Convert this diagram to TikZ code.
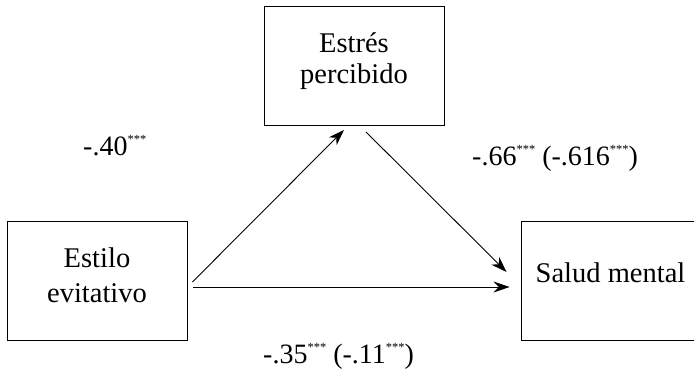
\documentclass[tikz,border=0pt]{standalone}
\usepackage{fontspec}
\setmainfont{Liberation Serif}
\usetikzlibrary{arrows.meta,calc}
\newcommand\stars{{\fontsize{12.5}{12.5}\selectfont\raisebox{11.5pt}{***}}}
\begin{document}
\begin{tikzpicture}[x=1pt,y=-1pt,
  box/.style={draw,line width=0.9pt,minimum width=180pt,minimum height=119pt,inner sep=0pt},
  txt/.style={font=\fontsize{28.5}{30}\selectfont,anchor=base,inner sep=0pt},
  coef/.style={font=\fontsize{28}{30}\selectfont,anchor=base west,inner sep=0pt},
  arr/.style={line width=0.9pt,-{Stealth[length=16pt,width=11pt]}}]
\useasboundingbox (0,0) rectangle (694,375);
\clip (0,0) rectangle (694,375);
\node[box] (ep) at (354,66) {};
\node[box] (ev) at (97,280.5) {};
\node[box] (sm) at (611,280.5) {};
\node[txt] (ept1) at (354,52) {Estrés};
\node[txt] (ept2) at (354,83) {percibido};
\node[txt] (evt1) at (97,267) {Estilo};
\node[txt] (evt2) at (97,302) {evitativo};
\node[txt] (smt) at (610.5,282) {Salud mental};
\node[coef] (ca) at (83,155) {-.40\stars};
\node[coef] (cb) at (472,165) {-.66\stars{} (-.616\stars)};
\node[coef] (cc) at (263,363) {-.35\stars{} (-.11\stars)};
\draw[arr] ($(ev.east)+(5,1.5)$) -- ($(ep.south)+(-10,4)$);
\draw[arr] ($(ep.south)+(12,6)$) -- ($(sm.west)+(-14,-8.5)$);
\draw[arr] ($(ev.east)+(6,6.5)$) -- ($(sm.west)+(-11,6.5)$);
\end{tikzpicture}
\end{document}
